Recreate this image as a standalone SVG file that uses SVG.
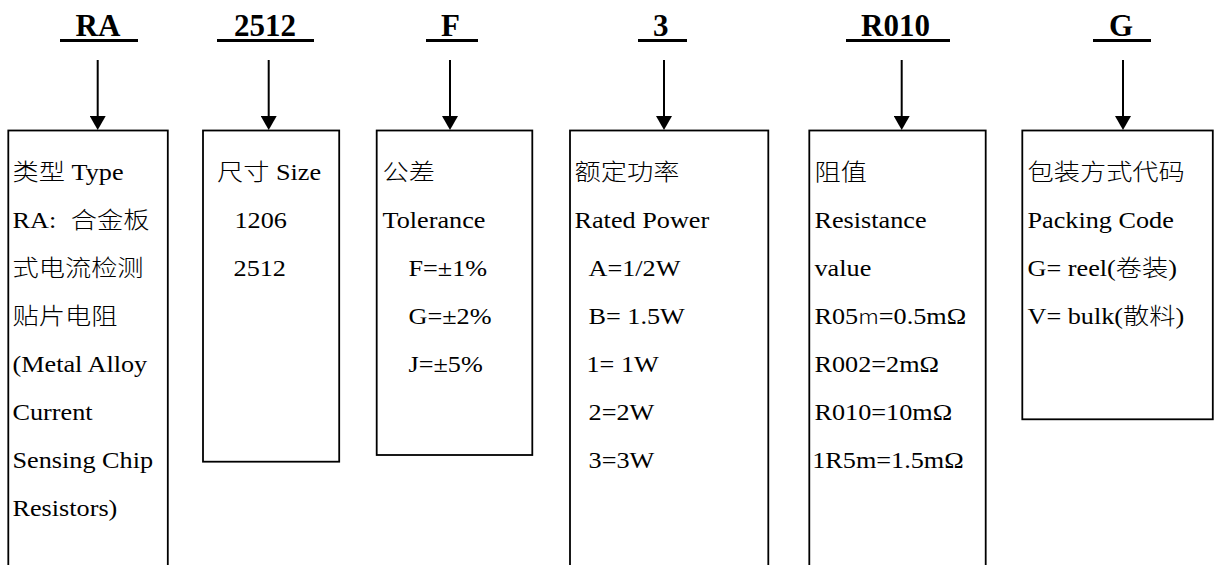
<svg xmlns="http://www.w3.org/2000/svg" width="1214" height="565" viewBox="0 0 1214 565">
<style>
.box{fill:#fff;stroke:#000;stroke-width:1.8}
.t{font-family:'Liberation Serif','Noto Sans CJK SC',serif;font-size:23px;fill:#000}
.h{font-family:'Liberation Serif','Noto Sans CJK SC',serif;font-size:31px;font-weight:bold;fill:#000}
.ul{fill:#000}
.cn{font-family:'Noto Sans CJK SC',sans-serif;font-weight:300}
.con{stroke:#000;stroke-width:2;fill:none;marker-end:url(#ah)}
</style>
<defs>
<marker id="ah" viewBox="0 0 14 16" refX="1" refY="8" markerWidth="14" markerHeight="16" markerUnits="userSpaceOnUse" orient="auto">
<path d="M0,0 L14,8 L0,16 Z" fill="#000"/>
</marker>
</defs>
<rect width="1214" height="565" fill="#fff"/>

<g id="headers">
<text class="h" x="75.5" y="35.5">RA</text>
<rect class="ul" x="60" y="39" width="78" height="3"/>
<text class="h" x="234" y="35.5">2512</text>
<rect class="ul" x="217" y="39" width="97" height="3"/>
<text class="h" x="441" y="35.5">F</text>
<rect class="ul" x="426" y="39" width="52" height="3"/>
<text class="h" x="653" y="35.5">3</text>
<rect class="ul" x="638" y="39" width="49" height="3"/>
<text class="h" x="861" y="35.5">R010</text>
<rect class="ul" x="846" y="39" width="104" height="3"/>
<text class="h" x="1109" y="35.5">G</text>
<rect class="ul" x="1093" y="39" width="58" height="3"/>
</g>

<g id="connectors">
<line class="con" x1="97.7" y1="60" x2="97.7" y2="117"/>
<line class="con" x1="268.7" y1="60" x2="268.7" y2="117"/>
<line class="con" x1="450" y1="60" x2="450" y2="117"/>
<line class="con" x1="664" y1="60" x2="664" y2="117"/>
<line class="con" x1="901.7" y1="60" x2="901.7" y2="117"/>
<line class="con" x1="1123" y1="60" x2="1123" y2="117"/>
</g>

<g id="node-type">
<rect class="box" x="8.3" y="130.5" width="159.5" height="450"/>
<g class="t" transform="translate(12.5 0) scale(1.14 1)">
<text y="180"><tspan class="cn">类型</tspan> Type</text>
<text y="228">RA: <tspan x="51.2" class="cn">合金板</tspan></text>
<text y="276" class="cn">式电流检测</text>
<text y="324" class="cn">贴片电阻</text>
<text y="372">(Metal Alloy</text>
<text y="420">Current</text>
<text y="468">Sensing Chip</text>
<text y="516">Resistors)</text>
</g>
</g>

<g id="node-size">
<rect class="box" x="203" y="130.5" width="136.2" height="331.2"/>
<g class="t" transform="translate(217 0) scale(1.14 1)">
<text y="180"><tspan class="cn">尺寸</tspan> Size</text>
<text x="15.3" y="228">1206</text>
<text x="14.5" y="276">2512</text>
</g>
</g>

<g id="node-tolerance">
<rect class="box" x="376.7" y="130.5" width="155.6" height="324.5"/>
<g class="t" transform="translate(382.5 0) scale(1.14 1)">
<text y="180" class="cn">公差</text>
<text y="228">Tolerance</text>
<text x="22.8" y="276">F=±1%</text>
<text x="22.8" y="324">G=±2%</text>
<text x="22.8" y="372">J=±5%</text>
</g>
</g>

<g id="node-power">
<rect class="box" x="570" y="130.5" width="198.3" height="450"/>
<g class="t" transform="translate(574.5 0) scale(1.14 1)">
<text y="180" class="cn">额定功率</text>
<text y="228">Rated Power</text>
<text x="12.3" y="276">A=1/2W</text>
<text x="12.3" y="324">B= 1.5W</text>
<text x="10.5" y="372">1= 1W</text>
<text x="12.3" y="420">2=2W</text>
<text x="12.3" y="468">3=3W</text>
</g>
</g>

<g id="node-resistance">
<rect class="box" x="809.3" y="130.5" width="176.4" height="450"/>
<g class="t" transform="translate(814.5 0) scale(1.14 1)">
<text y="180" class="cn">阻值</text>
<text y="228">Resistance</text>
<text y="276">value</text>
<text y="324">R05<tspan class="cn" font-size="20">m</tspan>=0.5mΩ</text>
<text y="372">R002=2mΩ</text>
<text y="420">R010=10mΩ</text>
<text x="-2" y="468">1R5m=1.5mΩ</text>
</g>
</g>

<g id="node-packing">
<rect class="box" x="1022.3" y="130.5" width="190.5" height="288.8"/>
<g class="t" transform="translate(1027.5 0) scale(1.14 1)">
<text y="180" class="cn">包装方式代码</text>
<text y="228">Packing Code</text>
<text y="276">G= reel(<tspan class="cn">卷装</tspan>)</text>
<text y="324">V= bulk(<tspan class="cn">散料</tspan>)</text>
</g>
</g>
</svg>
